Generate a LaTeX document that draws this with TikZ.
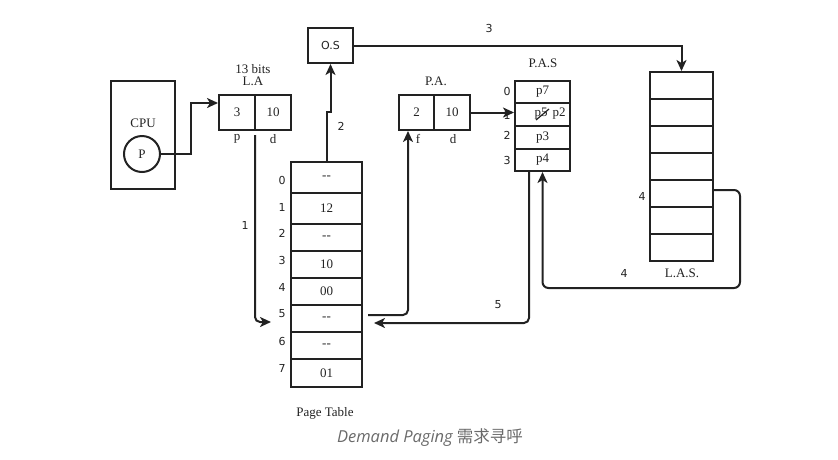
\documentclass[tikz,border=0pt]{standalone}
\usepackage{fontspec}
\setmainfont{Liberation Serif}
\newfontfamily\numfont{DejaVu Sans}
\newfontfamily\capfont{Open Sans}
\newfontfamily\cjkfont{Noto Sans CJK SC}
\usetikzlibrary{arrows.meta}
\definecolor{capgray}{HTML}{6A6A6A}
\definecolor{ink}{HTML}{222222}
\begin{document}
\begin{tikzpicture}[x=1pt,y=-1pt,
  cell/.style={draw=ink, line width=2pt, inner sep=0pt, text=ink, font=\fontsize{13}{15}\selectfont},
  txt/.style={inner sep=0pt, text=ink, font=\fontsize{13}{15}\selectfont},
  num/.style={inner sep=0pt, text=ink, font=\numfont\fontsize{11}{13}\selectfont},
  arr/.style={draw=ink, line width=2pt, -{Stealth[length=11pt,width=10pt,inset=3pt]}}]
\useasboundingbox (0,0) rectangle (838,459);

% CPU
\node[cell, minimum width=64pt, minimum height=108pt] (cpu) at (143,135) {};
\node[txt] (cpul) at (143,123) {CPU};
\node[cell, circle, minimum size=36pt] (pc) at (142,154) {P};

% Logical address
\node[txt] (labits) at (253,69) {13 bits};
\node[txt] (lal) at (253,81) {L.A};
\node[cell, minimum width=36pt, minimum height=35pt] (lap) at (237,112.5) {3};
\node[cell, minimum width=36pt, minimum height=35pt] (lad) at (273,112.5) {10};
\node[txt] (lapl) at (237,139) {p};
\node[txt] (ladl) at (273,139) {d};

% OS
\node[cell, minimum width=45pt, minimum height=35pt, font=\numfont\fontsize{11}{13}\selectfont] (os) at (330.5,45.5) {O.S};

% Page table
\node[cell, minimum width=71pt, minimum height=31pt] (pt0) at (326.5,177.5) {-{}-};
\node[cell, minimum width=71pt, minimum height=31pt] (pt1) at (326.5,208.5) {12};
\node[cell, minimum width=71pt, minimum height=27pt] (pt2) at (326.5,237.5) {-{}-};
\node[cell, minimum width=71pt, minimum height=27pt] (pt3) at (326.5,264.5) {10};
\node[cell, minimum width=71pt, minimum height=27pt] (pt4) at (326.5,291.5) {00};
\node[cell, minimum width=71pt, minimum height=27pt] (pt5) at (326.5,318.5) {-{}-};
\node[cell, minimum width=71pt, minimum height=27pt] (pt6) at (326.5,345.5) {-{}-};
\node[cell, minimum width=71pt, minimum height=28pt] (pt7) at (326.5,373) {01};
\node[num] (pi0) at (282,180) {0};
\node[num] (pi1) at (282,207) {1};
\node[num] (pi2) at (282,233) {2};
\node[num] (pi3) at (282,260) {3};
\node[num] (pi4) at (282,287) {4};
\node[num] (pi5) at (282,314) {5};
\node[num] (pi6) at (282,341) {6};
\node[num] (pi7) at (282,368) {7};
\node[txt] (ptl) at (325,413) {Page Table};

% Physical address
\node[txt] (pal) at (436,81) {P.A.};
\node[cell, minimum width=35pt, minimum height=35pt] (paf) at (416.5,112.5) {2};
\node[cell, minimum width=36pt, minimum height=35pt] (pad) at (452,112.5) {10};
\node[txt] (pafl) at (418,139) {f};
\node[txt] (padl) at (453,139) {d};

% Physical address space
\node[txt] (pasl) at (543,63) {P.A.S};
\node[cell, minimum width=55pt, minimum height=22pt] (pas0) at (542.5,92) {p7};
\node[cell, minimum width=55pt, minimum height=23pt] (pas1) at (542.5,114.5) {};
\node[cell, minimum width=55pt, minimum height=23pt] (pas2) at (542.5,137.5) {p3};
\node[cell, minimum width=55pt, minimum height=22pt] (pas3) at (542.5,160) {p4};
\node[txt] (p5) at (541,114) {p5};
\node[txt] (p2) at (559,114) {p2};
\draw[ink, line width=1.2pt] (536,120) -- (549,109);
\node[num] (si0) at (507,91) {0};
\node[num] (si1) at (507,115) {1};
\node[num] (si2) at (507,135) {2};
\node[num] (si3) at (507,160) {3};

% Logical address space
\foreach \i in {0,...,6}{
  \node[cell, minimum width=63pt, minimum height=27pt] (las\i) at (681.5,85.5+27*\i) {};
}
\node[txt] (lasl) at (682,273) {L.A.S.};

% Connectors
\draw[arr] (pc.east) -- ++(30,0) |- ([yshift=9.5pt]lap.west);
\draw[arr, rounded corners=5pt] ([xshift=-1pt,yshift=-4pt]lap.south east) |- ([xshift=-19pt,yshift=-3.5pt]pt5.west);
\node[num] (l1) at (245,225) {1};
\draw[arr] (pt0.north) -- ++(0,-49) -| (os.south);
\node[num] (l2) at (341,126) {2};
\draw[arr] (os.east) -| (las0.north);
\node[num] (l3) at (489,28) {3};
\draw[arr] (pad.east) -- (pad.east -| pas1.west);
\draw[arr, rounded corners=5pt] ([xshift=5pt,yshift=3.5pt]pt5.east) -| ([xshift=-8.5pt]paf.south);
\draw[arr, rounded corners=5pt] ([xshift=-13.5pt]pas3.south) |- ([xshift=11pt,yshift=-4.5pt]pt5.east);
\node[num] (l5) at (498,305) {5};
\coordinate (c4) at (740,288);
\draw[arr, rounded corners=6pt] ([yshift=3.5pt]las4.east) -| (c4) -| (pas3.south);
\node[num] (l4a) at (642,196) {4};
\node[num] (l4b) at (624,273) {4};

% Caption
\node[inner sep=0pt, text=capgray, font=\fontsize{16.5}{19}\selectfont] (cap) at (430,438) {{\capfont\itshape Demand Paging} {\cjkfont 需求寻呼}};
\end{tikzpicture}
\end{document}
